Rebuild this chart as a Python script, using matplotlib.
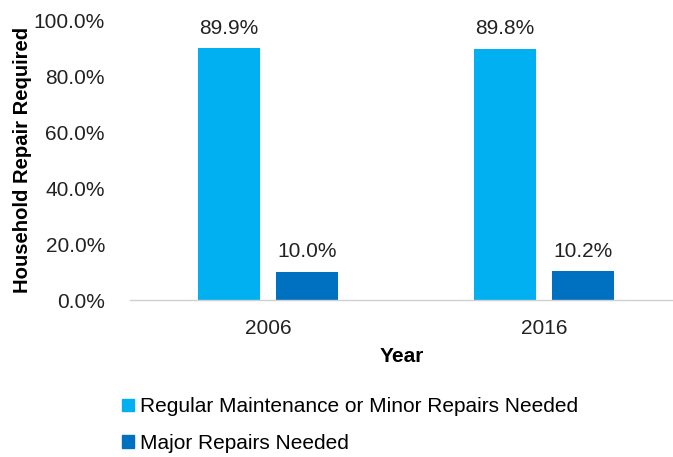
import matplotlib
matplotlib.use("Agg")
import matplotlib.pyplot as plt
import numpy as np
from matplotlib.patches import Patch

plt.rcParams['font.family'] = ['Liberation Sans', 'DejaVu Sans']

years = ["2006", "2016"]
series_names = ["Regular Maintenance or Minor Repairs Needed", "Major Repairs Needed"]
minor = [89.9, 89.8]
major = [10.0, 10.2]
colors = ["#00B0F0", "#0070C0"]

fig = plt.figure(figsize=(6.73, 4.57), dpi=100)
W, H = 673, 457
ax = fig.add_axes([130 / W, 1 - 300 / H, 543 / W, 280 / H])

x = np.arange(len(years))
bw = 0.225
off = 0.141
b1 = ax.bar(x - off, minor, bw, color=colors[0], label=series_names[0])
b2 = ax.bar(x + off, major, bw, color=colors[1], label=series_names[1])

for bars, vals in ((b1, minor), (b2, major)):
    for r, v in zip(bars, vals):
        ax.text(r.get_x() + r.get_width() / 2, v + 3.8, f"{v:.1f}%", ha="center",
                va="bottom", fontsize=15, color="#222222")

ax.set_ylim(0, 100)
ax.set_xlim(-0.5, -0.5 + 543 / 276)
ax.set_yticks(np.arange(0, 101, 20))
ax.set_yticklabels([f"{v:.1f}%" for v in np.arange(0, 101, 20)], fontsize=15, color="#222222")
ax.set_xticks(x)
ax.set_xticklabels(years, fontsize=15, color="#222222")
ax.tick_params(axis="both", length=0)
ax.tick_params(axis="y", pad=18)
ax.tick_params(axis="x", pad=14)
for s in ("top", "right", "left"):
    ax.spines[s].set_visible(False)
ax.spines["bottom"].set_color("#D0D0D0")
ax.spines["bottom"].set_linewidth(1)

ax.set_ylabel("Household Repair Required", fontsize=14.6, fontweight="bold")
ax.yaxis.set_label_coords(-(130 - 32) / 543, 0.5)
ax.set_xlabel("Year", fontsize=15, fontweight="bold")
ax.xaxis.set_label_coords((402 - 130) / 543, -(347 - 300) / 280)

handles = [Patch(color=colors[0]), Patch(color=colors[1])]
fig.legend(handles, series_names, loc="upper left", bbox_to_anchor=(112 / W, 1 - 387 / H),
           frameon=False, fontsize=15, handlelength=0.55, handleheight=0.55,
           handletextpad=0.3, labelspacing=0.85, borderpad=0)

fig.savefig("out.png", dpi=100)
